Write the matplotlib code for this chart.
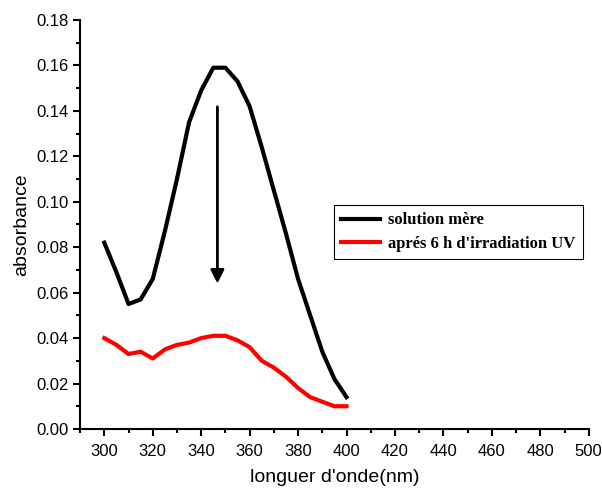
import numpy as np
import matplotlib.pyplot as plt
from matplotlib.ticker import MultipleLocator

# wavelengths (nm)
wavelength = [300, 305, 310, 315, 320, 325, 330, 335, 340, 345, 350,
              355, 360, 365, 370, 375, 380, 385, 390, 395, 400]

# absorbance of the stock solution
abs_mere = [0.082, 0.069, 0.055, 0.057, 0.066, 0.087, 0.110, 0.135, 0.149, 0.159, 0.159,
            0.153, 0.142, 0.124, 0.105, 0.086, 0.066, 0.050, 0.034, 0.022, 0.014]

# absorbance after 6 h UV irradiation
abs_uv = [0.040, 0.037, 0.033, 0.034, 0.031, 0.035, 0.037, 0.038, 0.040, 0.041, 0.041,
          0.039, 0.036, 0.030, 0.027, 0.023, 0.018, 0.014, 0.012, 0.010, 0.010]

plt.rcParams['font.family'] = ['Liberation Sans', 'DejaVu Sans']

fig = plt.figure(figsize=(6.02, 4.88), dpi=100)
ax = fig.add_axes([0.133, 0.121, 0.845, 0.838])

ax.plot(wavelength, abs_mere, color='black', lw=3, label='solution mère')
ax.plot(wavelength, abs_uv, color='red', lw=3, label="aprés 6 h d'irradiation UV")

# arrow showing the decrease
ax.annotate('', xy=(346.7, 0.064), xytext=(346.7, 0.1418),
            arrowprops=dict(arrowstyle='-|>', color='black', lw=2,
                            mutation_scale=20, shrinkA=0, shrinkB=0))

ax.set_xlim(290, 500)
ax.set_ylim(0, 0.18)
ax.xaxis.set_major_locator(MultipleLocator(20))
ax.xaxis.set_minor_locator(MultipleLocator(10))
ax.yaxis.set_major_locator(MultipleLocator(0.02))
ax.yaxis.set_minor_locator(MultipleLocator(0.01))
ax.set_xticks(np.arange(300, 501, 20))
ax.yaxis.set_major_formatter(plt.FormatStrFormatter('%.2f'))

for s in ['top', 'right']:
    ax.spines[s].set_visible(False)
for s in ['left', 'bottom']:
    ax.spines[s].set_linewidth(1.5)

ax.tick_params(which='major', direction='out', length=5, width=1.5, labelsize=12)
ax.tick_params(which='minor', direction='out', length=3, width=1.5)
ax.tick_params(axis='x', pad=6)

ax.set_xlabel("longuer d'onde(nm)", fontsize=14, labelpad=7)
ax.set_ylabel('absorbance', fontsize=14, labelpad=4)

leg = ax.legend(loc='upper left', bbox_to_anchor=(0.499, 0.548), borderaxespad=0,
                prop=dict(family='Liberation Serif', weight='bold', size=12),
                fancybox=False, edgecolor='black', framealpha=1,
                handlelength=2.3, handletextpad=0.5, borderpad=0.45, labelspacing=0.45)
leg.get_frame().set_linewidth(0.8)

fig.savefig('out.png', dpi=100)
